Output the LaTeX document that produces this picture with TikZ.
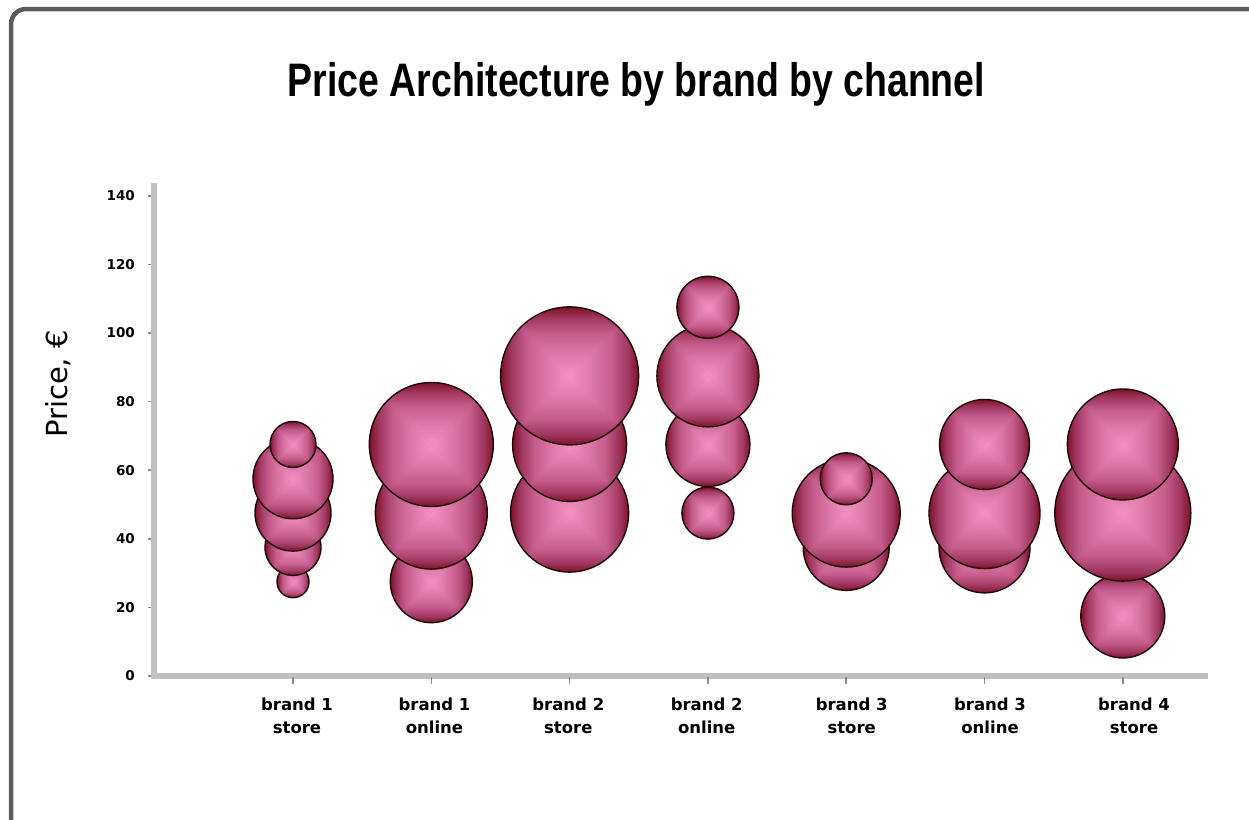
\documentclass[tikz,border=0pt]{standalone}
\usepackage{fontspec}
\setmainfont{Liberation Sans}
\newfontfamily\dvs{DejaVu Sans}
\newfontfamily\dvsb{DejaVu Sans Bold}
\usepackage{graphicx}
\definecolor{frameGray}{HTML}{5A5A5A}
\definecolor{axisGray}{HTML}{C0C0C0}
\definecolor{tickGray}{HTML}{8C8C8C}
\definecolor{bE}{HTML}{7E1226}
\definecolor{bOne}{HTML}{A03862}
\definecolor{bTwo}{HTML}{C55C8A}
\definecolor{bThree}{HTML}{E07CAC}
\definecolor{bC}{HTML}{F690C4}
\definecolor{bLine}{HTML}{1E0606}
\pgfdeclarehorizontalshading{bubL}{100bp}{color(0bp)=(bE); color(25bp)=(bE); color(33bp)=(bOne); color(44bp)=(bTwo); color(61bp)=(bThree); color(75bp)=(bC); color(100bp)=(bC)}
\pgfdeclarehorizontalshading{bubR}{100bp}{color(0bp)=(bC); color(25bp)=(bC); color(39bp)=(bThree); color(56bp)=(bTwo); color(67bp)=(bOne); color(75bp)=(bE); color(100bp)=(bE)}
\pgfdeclareverticalshading{bubB}{100bp}{color(0bp)=(bE); color(25bp)=(bE); color(33bp)=(bOne); color(44bp)=(bTwo); color(61bp)=(bThree); color(75bp)=(bC); color(100bp)=(bC)}
\pgfdeclareverticalshading{bubT}{100bp}{color(0bp)=(bC); color(25bp)=(bC); color(39bp)=(bThree); color(56bp)=(bTwo); color(67bp)=(bOne); color(75bp)=(bE); color(100bp)=(bE)}
\newcommand{\bubble}[3]{%
  \pgfmathsetmacro\bubX{154.7+138.3*#1}%
  \pgfmathsetmacro\bubY{676-3.43*#2}%
  \pgfmathsetmacro\bubR{#3}%
  \begin{scope}
    \clip (\bubX,\bubY) circle[radius=\bubR pt];
    \fill[bTwo] (\bubX,\bubY) circle[radius=\bubR pt];
    \shade[shading=bubT]
      (\bubX,\bubY) -- (\bubX-\bubR,\bubY-\bubR) -- (\bubX+\bubR,\bubY-\bubR) -- cycle;
    \shade[shading=bubB]
      (\bubX,\bubY) -- (\bubX-\bubR,\bubY+\bubR) -- (\bubX+\bubR,\bubY+\bubR) -- cycle;
    \shade[shading=bubL]
      (\bubX,\bubY) -- (\bubX-\bubR,\bubY-\bubR) -- (\bubX-\bubR,\bubY+\bubR) -- cycle;
    \shade[shading=bubR]
      (\bubX,\bubY) -- (\bubX+\bubR,\bubY-\bubR) -- (\bubX+\bubR,\bubY+\bubR) -- cycle;
  \end{scope}
  \draw[bubbleline] (\bubX,\bubY) circle[radius=\bubR pt];
}
\begin{document}
\begin{tikzpicture}[x=1pt,y=-1pt,
  frame/.style={draw=frameGray,line width=4.5pt,rounded corners=15pt},
  axisline/.style={draw=axisGray,line width=6pt},
  tickline/.style={draw=tickGray,line width=1.6pt},
  bubbleline/.style={draw=bLine,line width=1.4pt},
  ylab/.style={anchor=east,inner sep=0pt,font=\dvsb\fontsize{13.5}{15}\selectfont},
  catlab/.style={anchor=north,inner sep=0pt,align=center,font=\dvsb\fontsize{16.5}{23}\selectfont}]
\useasboundingbox (0,0) rectangle (1249,819);
\clip (0,0) rectangle (1249,819);
\fill[white] (0,0) rectangle (1249,819);
\draw[frame] (11,9) rectangle (1290,860);
% title
\node[anchor=base,inner sep=0pt] (title) at (636.5,96.7)
  {\resizebox{697pt}{\height}{\fontsize{47}{50}\selectfont\bfseries Price Architecture by brand by channel}};
% y axis title
\node[rotate=90,anchor=base,inner sep=0pt,font=\dvs\fontsize{29}{32}\selectfont] (ytitle) at (67,384) {Price, €};
% axes
\coordinate (ytop) at (153.5,183);
\coordinate (ybot) at (153.5,679);
\coordinate (xl) at (150.5,676);
\coordinate (xr) at (1208,676);
\draw[axisline] (ytop) -- (ybot);
\draw[axisline] (xl) -- (xr);
% y ticks and labels
\foreach \v in {0,20,...,140}{
  \pgfmathsetmacro\ty{676-3.43*\v}
  \coordinate (yt\v) at (151,\ty);
  \draw[tickline] (yt\v) -- ++(-3,0);
  \node[ylab] (yl\v) at (135,\ty) {\v};
}
% x ticks
\foreach \i in {1,...,7}{
  \pgfmathsetmacro\tx{154.7+138.3*\i}
  \coordinate (xt\i) at (\tx,677);
  \draw[tickline] (xt\i) -- ++(0,7);
}
% bubbles (higher value drawn later, on top)
\bubble{1}{27.5}{16}
\bubble{1}{37.5}{28}
\bubble{1}{47.5}{38}
\bubble{1}{57.5}{40}
\bubble{1}{67.5}{23}
\bubble{2}{27.5}{41}
\bubble{2}{47.5}{56}
\bubble{2}{67.5}{62}
\bubble{3}{47.5}{59}
\bubble{3}{67.5}{57}
\bubble{3}{87.5}{69}
\bubble{4}{47.5}{26}
\bubble{4}{67.5}{42}
\bubble{4}{87.5}{51}
\bubble{4}{107.5}{31}
\bubble{5}{37.5}{43}
\bubble{5}{47.5}{54}
\bubble{5}{57.5}{26}
\bubble{6}{37.5}{45.5}
\bubble{6}{47.5}{55.5}
\bubble{6}{67.5}{45}
\bubble{7}{17.5}{42}
\bubble{7}{47.5}{68}
\bubble{7}{67.5}{55.5}
% category labels
\node[catlab] (c1) at (297,697.5) {brand 1\\store};
\node[catlab] (c2) at (434.5,697.5) {brand 1\\online};
\node[catlab] (c3) at (568.3,697.5) {brand 2\\store};
\node[catlab] (c4) at (706.7,697.5) {brand 2\\online};
\node[catlab] (c5) at (851.7,697.5) {brand 3\\store};
\node[catlab] (c6) at (990,697.5) {brand 3\\online};
\node[catlab] (c7) at (1134,697.5) {brand 4\\store};
\end{tikzpicture}
\end{document}
